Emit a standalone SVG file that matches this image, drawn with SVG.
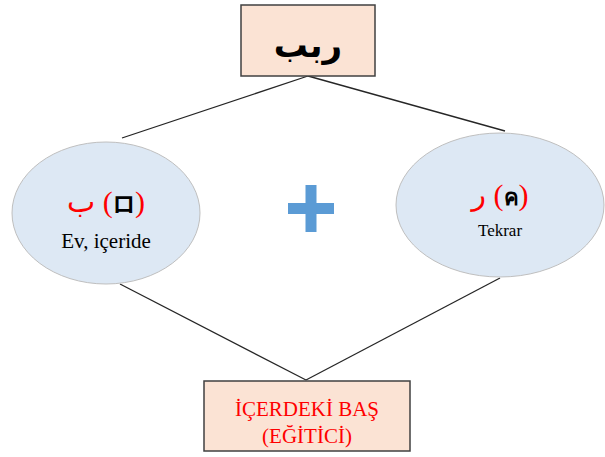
<svg xmlns="http://www.w3.org/2000/svg" width="605" height="457" viewBox="0 0 605 457">
  <style>
    .box { fill: #fbe3d4; stroke: #404040; stroke-width: 1.5; }
    .oval { fill: #dde8f4; stroke: #bfbfbf; stroke-width: 1; }
    .link { stroke: #262626; stroke-width: 1.3; fill: none; }
    .red { fill: #ff0000; }
    .serif { font-family: "Liberation Serif", "DejaVu Serif", serif; }
    .ar { font-family: "DejaVu Sans", "Noto Sans", sans-serif; }
    .glyph { font-family: "DejaVu Sans", "Noto Sans", "Noto Sans CJK KR", sans-serif; font-weight: bold; fill: #000; }
  </style>
  <rect width="605" height="457" fill="#ffffff"/>

  <g id="connectors">
    <line class="link" x1="308" y1="76" x2="122" y2="138"/>
    <line class="link" x1="308" y1="76" x2="505" y2="131"/>
    <line class="link" x1="120" y1="284" x2="306" y2="380"/>
    <line class="link" x1="500" y1="278" x2="306" y2="380"/>
  </g>

  <g id="root">
    <rect class="box" x="241" y="5" width="134" height="71"/>
    <text x="308" y="57" text-anchor="middle" class="ar" font-weight="bold" font-size="34">ربب</text>
  </g>

  <g id="bet">
    <ellipse class="oval" cx="106" cy="213" rx="94" ry="71"/>
    <text x="106" y="212" text-anchor="middle" class="serif" font-size="30"><tspan class="red ar" font-size="30">ب</tspan><tspan class="red"> (</tspan><tspan class="glyph" font-size="22">ロ</tspan><tspan class="red">)</tspan></text>
    <text x="106" y="248" text-anchor="middle" class="serif" font-size="21" fill="#000">Ev, içeride</text>
  </g>

  <g id="plus">
    <rect x="288" y="203" width="46" height="11" fill="#5b9bd5"/>
    <rect x="305.5" y="185" width="11" height="47" fill="#5b9bd5"/>
  </g>

  <g id="resh">
    <ellipse class="oval" cx="500" cy="205" rx="104" ry="72"/>
    <text x="500" y="205" text-anchor="middle" class="serif" font-size="30"><tspan class="red ar" font-size="30">ر</tspan><tspan class="red"> (</tspan><tspan class="glyph" font-size="22">ค</tspan><tspan class="red">)</tspan></text>
    <text x="500" y="236" text-anchor="middle" class="serif" font-size="17" fill="#000">Tekrar</text>
  </g>

  <g id="result">
    <rect class="box" x="204" y="381" width="206" height="70"/>
    <text x="307" y="416" text-anchor="middle" class="serif red" font-size="21">İÇERDEKİ BAŞ</text>
    <text x="307" y="443" text-anchor="middle" class="serif red" font-size="21">(EĞİTİCİ)</text>
  </g>
</svg>
